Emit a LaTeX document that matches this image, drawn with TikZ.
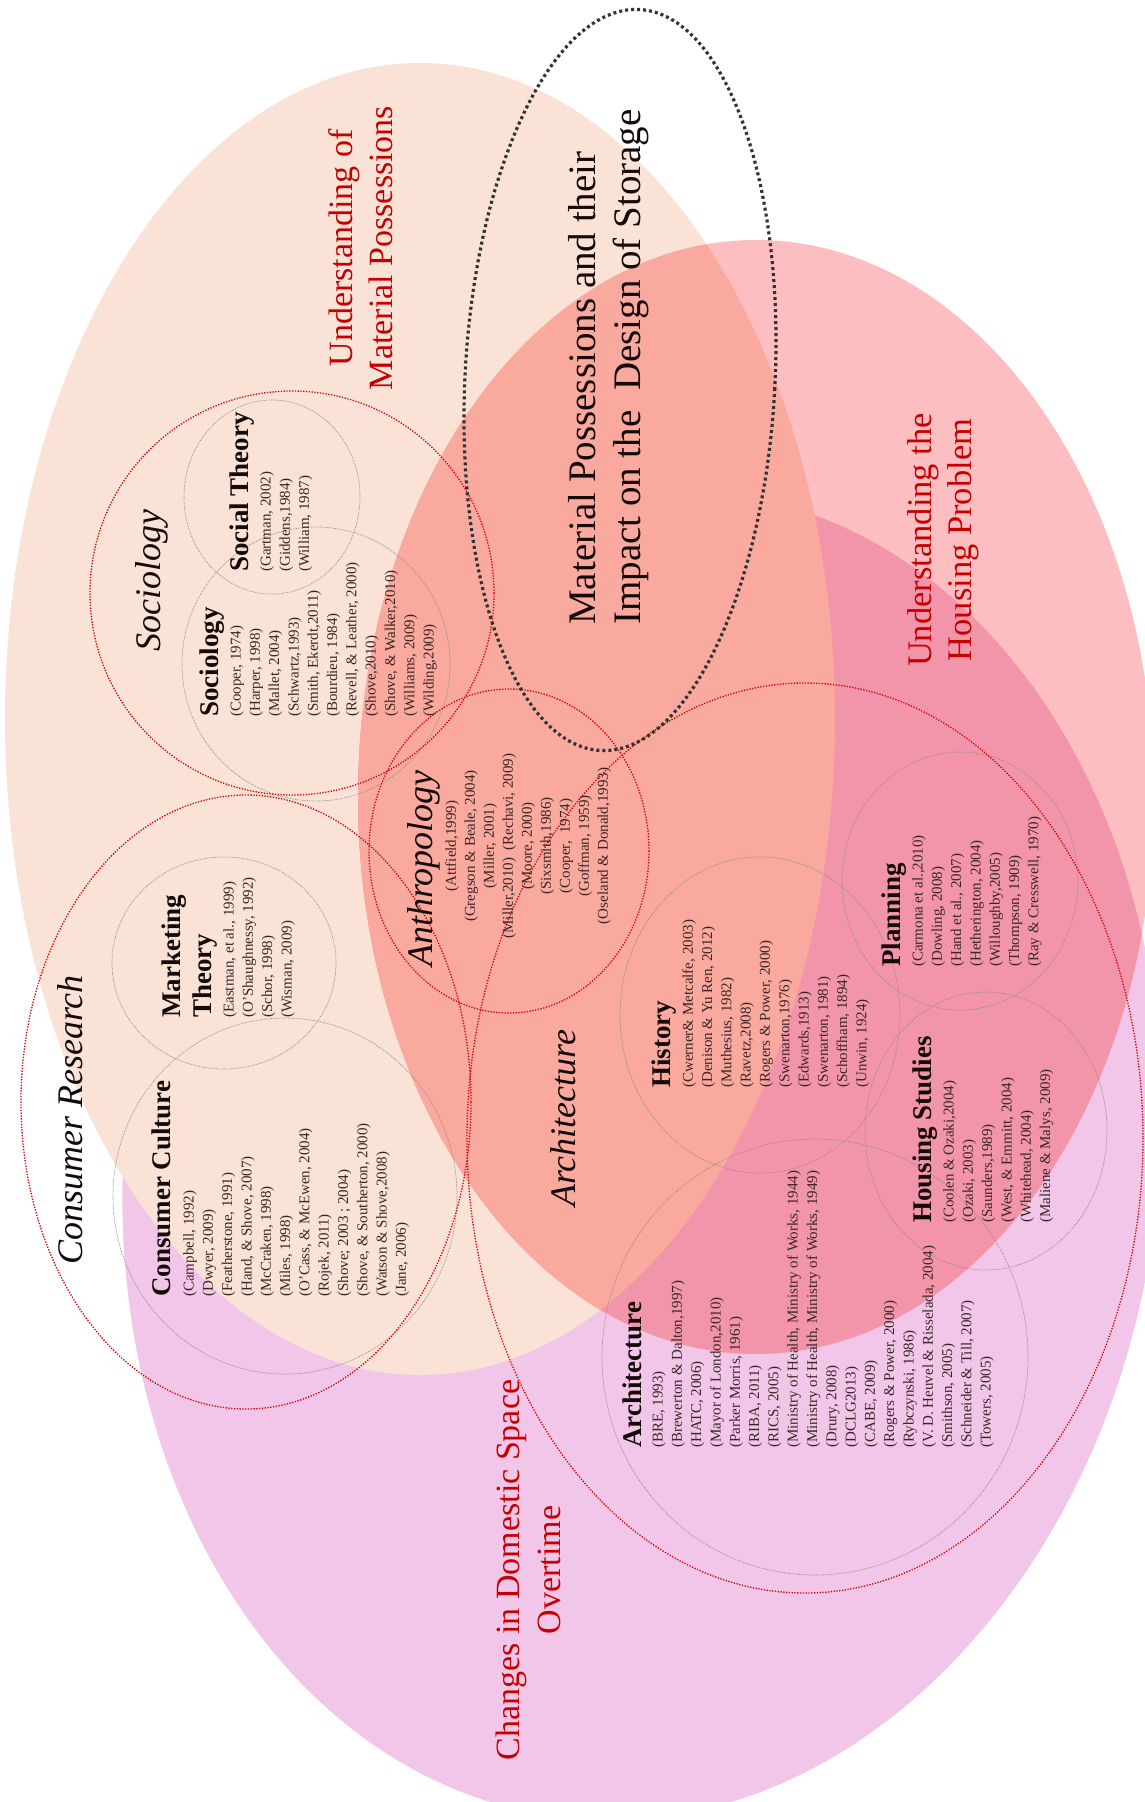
\documentclass[tikz,border=0pt]{standalone}
\usepackage{fontspec}
\setmainfont{Liberation Serif}
\definecolor{peach}{RGB}{250,227,214}
\definecolor{pinkl}{RGB}{253,190,193}
\definecolor{lav}{RGB}{242,198,232}
\definecolor{salmon}{RGB}{249,169,158}
\definecolor{dpink}{RGB}{242,149,171}
\definecolor{rdot}{RGB}{214,0,0}
\definecolor{themered}{RGB}{198,0,0}
\definecolor{refc}{RGB}{58,38,38}
\definecolor{headc}{RGB}{20,10,10}
\begin{document}
\begin{tikzpicture}[x=1pt,y=-1pt,
  reddot/.style={draw=rdot, line width=1.3pt, dash pattern=on 1.3pt off 1.5pt},
  graydot/.style={draw=black!45, line width=0.7pt, dash pattern=on 0.8pt off 0.9pt},
  blackdot/.style={draw=black!80, line width=3.2pt, dash pattern=on 3pt off 3pt},
  refs/.style={rotate=90, inner sep=0pt, anchor=north west, align=left, text=refc,
    font=\fontsize{15}{19.3}\selectfont},
  crefs/.style={refs, anchor=north, align=center, font=\fontsize{15}{19}\selectfont},
  head/.style={rotate=90, inner sep=0pt, anchor=north west, align=left, text=headc,
    font=\fontsize{27}{31}\selectfont\bfseries},
  area/.style={rotate=90, inner sep=0pt, anchor=north west, text=headc,
    font=\fontsize{36}{40}\selectfont\itshape},
  theme/.style={rotate=90, inner sep=0pt, anchor=north, align=center, text=themered,
    font=\fontsize{34}{40}\selectfont},
  title/.style={rotate=90, inner sep=0pt, anchor=north west, align=left, text=headc,
    font=\fontsize{39}{45}\selectfont}]

\useasboundingbox (0,0) rectangle (1144,1802);
\fill[white] (0,0) rectangle (1144,1802);

% the three overlapping fields
\fill[lav, rotate around={-7:(642,1155)}] (642,1155) ellipse [x radius=517, y radius=667];
\fill[peach] (420,719) ellipse [x radius=415, y radius=656];
\fill[pinkl] (756,797) ellipse [x radius=398, y radius=557];
\begin{scope}
  \clip (756,797) ellipse [x radius=398, y radius=557];
  \fill[dpink, rotate around={-7:(642,1155)}] (642,1155) ellipse [x radius=517, y radius=667];
  \fill[salmon] (420,719) ellipse [x radius=415, y radius=656];
\end{scope}

% literature circles
\draw[graydot] (272,497) ellipse [x radius=88, y radius=97];
\draw[graydot] (316,664) ellipse [x radius=134, y radius=137];
\draw[graydot] (224,963) ellipse [x radius=112, y radius=106];
\draw[graydot] (285,1196) ellipse [x radius=172, y radius=178];
\draw[graydot] (760,1015) ellipse [x radius=140, y radius=158];
\draw[graydot] (960,881) ellipse [x radius=118, y radius=129];
\draw[graydot] (986,1131) ellipse [x radius=121, y radius=139];
\draw[graydot] (815,1357) ellipse [x radius=213, y radius=218];

% discipline groupings
\draw[reddot] (292,593) circle [radius=202];
\draw[reddot] (246,1102) ellipse [x radius=225, y radius=307];
\draw[reddot] (509,851) ellipse [x radius=140, y radius=162];
\draw[reddot] (805,1138) ellipse [x radius=338, y radius=455];

% research focus
\draw[blackdot, rotate around={-3:(620,380)}] (620,380) ellipse [x radius=155, y radius=371];

% field titles
\node[theme] (tmat) at (328,248) {Understanding of\\Material Possessions};
\node[theme, font=\fontsize{34.5}{40}\selectfont] (thou) at (907,540) {Understanding the\\Housing Problem};
\node[theme, font=\fontsize{34}{41}\selectfont] (tdom) at (496,1570) {Changes in Domestic Space\\Overtime};
\node[title] (ttitle) at (568,625) {Material Possessions and their\\Impact on the\ \ Design of Storage};

% discipline labels
\node[area] (asoc) at (135,652) {Sociology};
\node[area] (acon) at (57,1265) {Consumer Research};
\node[area] (aant) at (407,967) {Anthropology};
\node[area] (aarc) at (550,1207) {Architecture};

% sociology
\node[head] (hsoc) at (200,717) {Sociology};
\node[refs] (rsoc) at (230,717) {(Cooper, 1974)\\(Harper, 1998)\\(Mallet, 2004)\\(Schwartz,1993)\\(Smith, Ekerdt,2011)\\(Bourdieu, 1984)\\(Revell, \& Leather, 2000)\\(Shove,2010)\\(Shove, \& Walker,2010)\\(Williams, 2009)\\(Wilding,2009)};

% social theory
\node[head] (hst) at (230,572) {Social Theory};
\node[refs] (rst) at (260,572) {(Gartman, 2002)\\(Giddens,1984)\\(William, 1987)};

% marketing theory
\node[head] (hmkt) at (162,1018) {Marketing\\Theory};
\node[refs] (rmkt) at (223,1018) {(Eastman, et al., 1999)\\(O'Shaughnessy, 1992)\\(Schor, 1998)\\(Wisman, 2009)};

% consumer culture
\node[head] (hcc) at (152,1297) {Consumer Culture};
\node[refs] (rcc) at (183,1297) {(Campbell, 1992)\\(Dwyer, 2009)\\(Featherstone, 1991)\\(Hand, \& Shove, 2007)\\(McCraken, 1998)\\(Miles, 1998)\\(O'Cass, \& McEwen, 2004)\\(Rojek, 2011)\\(Shove; 2003 ; 2004)\\(Shove, \& Southerton, 2000)\\(Watson \& Shove,2008)\\(Jane, 2006)};

% anthropology
\node[crefs] (rant) at (445,846) {(Attfield,1999)\\(Gregson \& Beale, 2004)\\(Miller, 2001)\\(Miller,2010)\ \ (Rechavi, 2009)\\(Moore, 2000)\\(Sixsmith,1986)\\(Cooper,\ \ 1974)\\(Goffman, 1959)\\(Oseland \& Donald,1993)};

% history
\node[head] (hhis) at (652,1088) {History};
\node[refs] (rhis) at (682,1088) {(Cwerner\& Metcalfe, 2003)\\(Denison \& Yu Ren, 2012)\\(Muthesius, 1982)\\(Ravetz,2008)\\(Rogers \& Power, 2000)\\(Swenarton,1976)\\(Edwards,1913)\\(Swenarton, 1981)\\(Schoffham, 1894)\\(Unwin, 1924)};

% planning
\node[head] (hpla) at (882,967) {Planning};
\node[refs] (rpla) at (912,967) {(Carmona et al.,2010)\\(Dowling, 2008)\\(Hand et al., 2007)\\(Hetherington, 2004)\\(Willoughby,2005)\\(Thompson, 1909)\\(Ray \& Cresswell, 1970)};

% housing studies
\node[head] (hhs) at (913,1223) {Housing Studies};
\node[refs] (rhs) at (943,1223) {(Coolen \& Ozaki,2004)\\(Ozaki, 2003)\\(Saunders,1989)\\(West, \& Emmitt, 2004)\\(Whitehead, 2004)\\(Maliene \& Malys, 2009)};

% architecture
\node[head] (harc) at (623,1448) {Architecture};
\node[refs] (rarc) at (652,1448) {(BRE, 1993)\\(Brewerton \& Dalton,1997)\\(HATC, 2006)\\(Mayor of London,2010)\\(Parker Morris, 1961)\\(RIBA, 2011)\\(RICS, 2005)\\(Ministry of Health, Ministry of Works, 1944)\\(Ministry of Health, Ministry of Works, 1949)\\(Drury, 2008)\\(DCLG2013)\\(CABE, 2009)\\(Rogers \& Power, 2000)\\(Rybczynski, 1986)\\(V. D. Heuvel \& Risselada, 2004)\\(Smithson, 2005)\\(Schneider \& Till, 2007)\\(Towers, 2005)};

\end{tikzpicture}
\end{document}
